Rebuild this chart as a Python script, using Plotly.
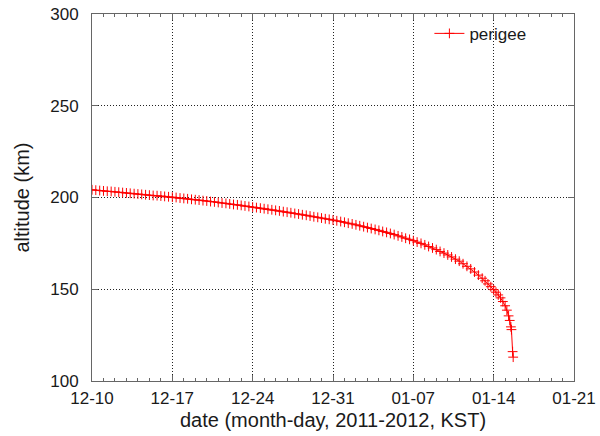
import pandas as pd
import plotly.graph_objects as go

# days elapsed since 2011-12-10 00:00 KST
day_offsets = [0.00, 0.33, 0.67, 1.00, 1.33, 1.67, 2.00, 2.33, 2.67, 3.00, 3.33, 3.67,
               4.00, 4.33, 4.67, 5.00, 5.33, 5.67, 6.00, 6.33, 6.67, 7.00, 7.33, 7.67,
               8.00, 8.33, 8.67, 9.00, 9.33, 9.67, 10.00, 10.33, 10.67, 11.00, 11.33, 11.67,
               12.00, 12.33, 12.67, 13.00, 13.33, 13.67, 14.00, 14.33, 14.67, 15.00, 15.33, 15.67,
               16.00, 16.33, 16.67, 17.00, 17.33, 17.67, 18.00, 18.33, 18.67, 19.00, 19.33, 19.67,
               20.00, 20.33, 20.67, 21.00, 21.33, 21.67, 22.00, 22.33, 22.67, 23.00, 23.33, 23.67,
               24.00, 24.33, 24.67, 25.00, 25.33, 25.67, 26.00, 26.33, 26.67, 27.00, 27.33, 27.67,
               28.00, 28.33, 28.67, 29.00, 29.33, 29.67, 30.00, 30.33, 30.67, 31.00, 31.33, 31.67,
               32.00, 32.33, 32.67, 33.00, 33.33, 33.67, 34.00, 34.25, 34.50, 34.75, 35.00, 35.20,
               35.40, 35.60, 35.80, 36.00, 36.15, 36.30, 36.40, 36.50, 36.55, 36.65, 36.70]
perigee_km = [204.2, 204.0, 203.8, 203.6, 203.4, 203.3, 203.1, 202.9, 202.7, 202.5, 202.3, 202.1,
              201.9, 201.7, 201.5, 201.3, 201.1, 201.0, 200.8, 200.6, 200.4, 200.2, 200.0, 199.7,
              199.5, 199.3, 199.0, 198.8, 198.6, 198.3, 198.1, 197.8, 197.6, 197.3, 197.0, 196.8,
              196.5, 196.2, 196.0, 195.7, 195.4, 195.1, 194.8, 194.5, 194.2, 193.9, 193.6, 193.3,
              193.0, 192.7, 192.3, 192.0, 191.7, 191.3, 191.0, 190.6, 190.3, 189.9, 189.5, 189.2,
              188.8, 188.4, 188.1, 187.7, 187.3, 186.9, 186.5, 186.0, 185.6, 185.1, 184.6, 184.1,
              183.6, 183.1, 182.6, 182.1, 181.5, 181.0, 180.4, 179.8, 179.1, 178.5, 177.8, 177.2,
              176.5, 175.7, 175.0, 174.2, 173.3, 172.5, 171.6, 170.6, 169.7, 168.7, 167.6, 166.4,
              165.3, 163.9, 162.5, 161.1, 159.4, 157.7, 156.0, 154.6, 152.9, 151.4, 149.8, 148.4,
              146.9, 145.3, 143.3, 141.0, 138.6, 135.5, 133.0, 129.5, 128.0, 116.0, 113.0]

x_tick_dates = ["2011-12-10", "2011-12-17", "2011-12-24", "2011-12-31",
                "2012-01-07", "2012-01-14", "2012-01-21"]
x_tick_labels = ["12-10", "12-17", "12-24", "12-31", "01-07", "01-14", "01-21"]
y_ticks = [100, 150, 200, 250, 300]

start = pd.Timestamp("2011-12-10 00:00")
dates = [start + pd.Timedelta(days=d) for d in day_offsets]

fig = go.Figure()
fig.add_trace(go.Scatter(
    x=dates, y=perigee_km, name="perigee", mode="lines+markers",
    line=dict(color="#ff0000", width=1),
    marker=dict(symbol="cross-thin", size=7, line=dict(color="#ff0000", width=1)),
))

font = dict(family="Liberation Sans, Arial, sans-serif", size=17, color="#1a1a1a")
fig.update_layout(
    width=600, height=436,
    margin=dict(l=92, r=26, t=14, b=55),
    paper_bgcolor="white", plot_bgcolor="white",
    font=font,
    showlegend=True,
    legend=dict(x=0.70, y=0.995, xanchor="left", yanchor="top",
                bgcolor="rgba(0,0,0,0)", font=font),
)
grid = dict(showgrid=True, gridcolor="#222222", griddash="1px,2px", gridwidth=1)
fig.update_xaxes(
    range=["2011-12-10", "2012-01-21"],
    tickvals=x_tick_dates, ticktext=x_tick_labels,
    showline=True, linecolor="#666666", linewidth=1, mirror="allticks",
    ticks="inside", ticklen=6, tickcolor="#666666",
    minor=dict(dtick=86400000, ticks="inside", ticklen=3, tickcolor="#666666", showgrid=False),
    zeroline=False, automargin=False, ticklabelstandoff=2,
    title=dict(text="date (month-day, 2011-2012, KST)", standoff=5),
    **grid,
)
fig.update_yaxes(
    range=[100, 300], tickvals=y_ticks,
    showline=True, linecolor="#666666", linewidth=1, mirror="allticks",
    ticks="inside", ticklen=6, tickcolor="#666666",
    zeroline=False, automargin=False, ticklabelstandoff=9,
    title=dict(text="altitude (km)", standoff=15),
    **grid,
)
fig.write_html("out.html", config={"displayModeBar": False},
               post_script="document.body.style.margin='0';")
